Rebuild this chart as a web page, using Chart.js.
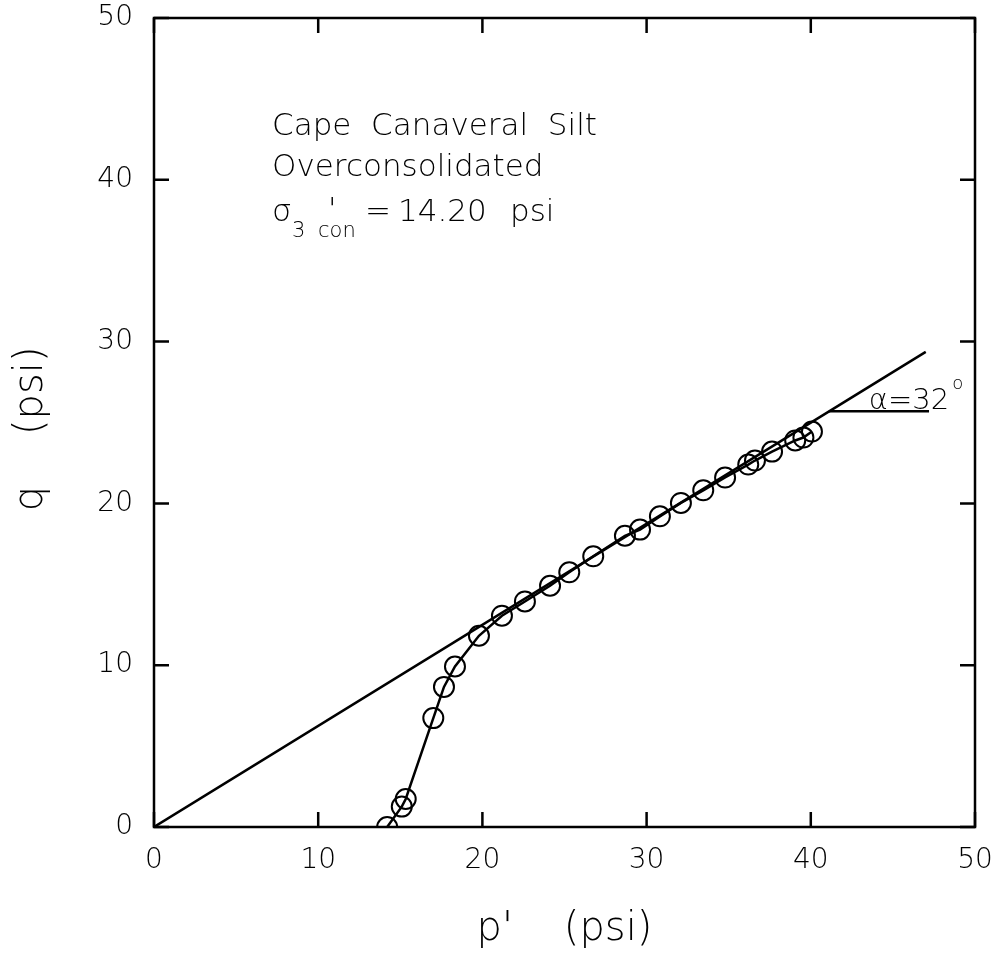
<!DOCTYPE html>
<html>
<head>
<meta charset="utf-8">
<title>Cape Canaveral Silt - stress path</title>
<script src="https://cdn.jsdelivr.net/npm/chart.js@4.4.0/dist/chart.umd.min.js"></script>
<style>
    html, body { margin: 0; padding: 0; background: #fff; }
    #wrap { width: 998px; height: 960px; }
</style>
</head>
<body>
<div id="wrap"><canvas id="stress-path" width="998" height="960"></canvas></div>
<script>
// measured stress path (p', q) in psi
const pPrime = [14.2, 15.09, 15.33, 17.01, 17.66, 18.33, 19.79, 21.19, 22.59, 24.12, 25.29, 26.75, 28.68, 29.6, 30.81, 32.09, 33.45, 34.78, 36.19, 36.6, 37.64, 39.05, 39.55, 40.07];
const qValues = [0, 1.26, 1.73, 6.73, 8.66, 9.92, 11.82, 13.06, 13.94, 14.91, 15.74, 16.73, 18.0, 18.38, 19.2, 20.03, 20.81, 21.6, 22.4, 22.65, 23.2, 23.89, 24.07, 24.44];

// failure line through origin, alpha = 32 deg
const alphaDeg = 32;
const fitLineP = [0, 47];
const markerP = [41.1, 47.2];
const markerQ = 25.7;

const tickValues = [0, 10, 20, 30, 40, 50];

const FONT = "DejaVu Sans";
const WEIGHT = "200";
const LW = 2.5;
const slope = Math.tan(alphaDeg * Math.PI / 180);

const pathData = pPrime.map((p, i) => ({ x: p, y: qValues[i] }));
const fitData = fitLineP.map((p) => ({ x: p, y: p * slope }));
const markerData = markerP.map((p) => ({ x: p, y: markerQ }));

function font(size) {
    return WEIGHT + " " + size + "px '" + FONT + "'";
}

// frame with inward ticks on all four sides
const framePlugin = {
    id: "frame",
    afterDatasetsDraw(chart) {
        const { ctx, chartArea, scales } = chart;
        const { left, right, top, bottom } = chartArea;
        const len = 15;
        ctx.save();
        ctx.strokeStyle = "#000";
        ctx.lineWidth = LW;
        ctx.strokeRect(left, top, right - left, bottom - top);
        ctx.beginPath();
        tickValues.forEach((v) => {
            const x = scales.x.getPixelForValue(v);
            const y = scales.y.getPixelForValue(v);
            ctx.moveTo(x, bottom);
            ctx.lineTo(x, bottom - len);
            ctx.moveTo(x, top);
            ctx.lineTo(x, top + len);
            ctx.moveTo(left, y);
            ctx.lineTo(left + len, y);
            ctx.moveTo(right, y);
            ctx.lineTo(right - len, y);
        });
        ctx.stroke();
        ctx.restore();
    },
};

// sample description and the alpha label
const notesPlugin = {
    id: "notes",
    afterDraw(chart) {
        const { ctx, chartArea, scales } = chart;
        const x0 = chartArea.left + 118;
        const y0 = chartArea.top;
        ctx.save();
        ctx.fillStyle = "#000";
        ctx.textBaseline = "alphabetic";
        ctx.textAlign = "left";

        ctx.font = font(31);
        ctx.fillText("Cape  Canaveral  Silt", x0, y0 + 117);
        ctx.fillText("Overconsolidated", x0, y0 + 158);

        // sigma'3con = 14.20 psi
        const b3 = y0 + 203;
        ctx.fillText("\u03c3", x0, b3);
        ctx.fillText("'", x0 + 56, b3 - 2);
        ctx.fillText("=", x0 + 93, b3);
        ctx.fillText("14.20", x0 + 126, b3);
        ctx.fillText("psi", x0 + 238, b3);
        ctx.font = font(21);
        ctx.fillText("3", x0 + 20, b3 + 16);
        ctx.fillText("con", x0 + 46, b3 + 16);

        // alpha = 32 deg, sitting on the horizontal marker
        const ax = scales.x.getPixelForValue(markerP[0]) + 40;
        const ay = scales.y.getPixelForValue(markerQ) - 2;
        ctx.font = font(29);
        ctx.fillText("\u03b1=" + alphaDeg, ax, ay);
        const w = ctx.measureText("\u03b1=" + alphaDeg).width;
        ctx.font = font(18);
        ctx.fillText("o", ax + w + 3, ay - 20);
        ctx.restore();
    },
};

const chart = new Chart(document.getElementById("stress-path"), {
    type: "scatter",
    data: {
        datasets: [
            {
                label: "stress path",
                data: pathData,
                showLine: true,
                borderColor: "#000",
                borderWidth: LW,
                pointStyle: "circle",
                pointRadius: 10,
                pointBorderWidth: 2,
                pointBorderColor: "#000",
                pointBackgroundColor: "rgba(0,0,0,0)",
            },
            {
                label: "alpha line",
                data: fitData,
                showLine: true,
                borderColor: "#000",
                borderWidth: LW,
                pointRadius: 0,
            },
            {
                label: "alpha marker",
                data: markerData,
                showLine: true,
                borderColor: "#000",
                borderWidth: LW,
                pointRadius: 0,
            },
        ],
    },
    options: {
        responsive: false,
        animation: false,
        layout: {
            padding: { top: 18, right: 23, left: 0, bottom: 0 },
        },
        plugins: {
            legend: { display: false },
            tooltip: { enabled: false },
        },
        scales: {
            x: {
                type: "linear",
                min: 0,
                max: 50,
                grid: { display: false, drawTicks: false },
                border: { display: false },
                ticks: {
                    stepSize: 10,
                    color: "#000",
                    padding: 17,
                    maxRotation: 0,
                    font: { family: FONT, size: 28, weight: WEIGHT },
                },
                title: {
                    display: true,
                    text: "p'    (psi)",
                    color: "#000",
                    padding: { top: 0, bottom: 6 },
                    font: { family: FONT, size: 40, weight: WEIGHT },
                },
                afterFit(scale) {
                    scale.height = 133;
                    scale.paddingLeft = 0;
                    scale.paddingRight = 0;
                },
            },
            y: {
                type: "linear",
                min: 0,
                max: 50,
                grid: { display: false, drawTicks: false },
                border: { display: false },
                ticks: {
                    stepSize: 10,
                    color: "#000",
                    padding: 21,
                    font: { family: FONT, size: 28, weight: WEIGHT },
                },
                title: {
                    display: true,
                    text: "q    (psi) ",
                    color: "#000",
                    padding: { top: 8, bottom: 0 },
                    font: { family: FONT, size: 40, weight: WEIGHT },
                },
                afterFit(scale) {
                    scale.width = 154;
                    scale.paddingTop = 0;
                    scale.paddingBottom = 0;
                },
            },
        },
    },
    plugins: [framePlugin, notesPlugin],
});
</script>
</body>
</html>
